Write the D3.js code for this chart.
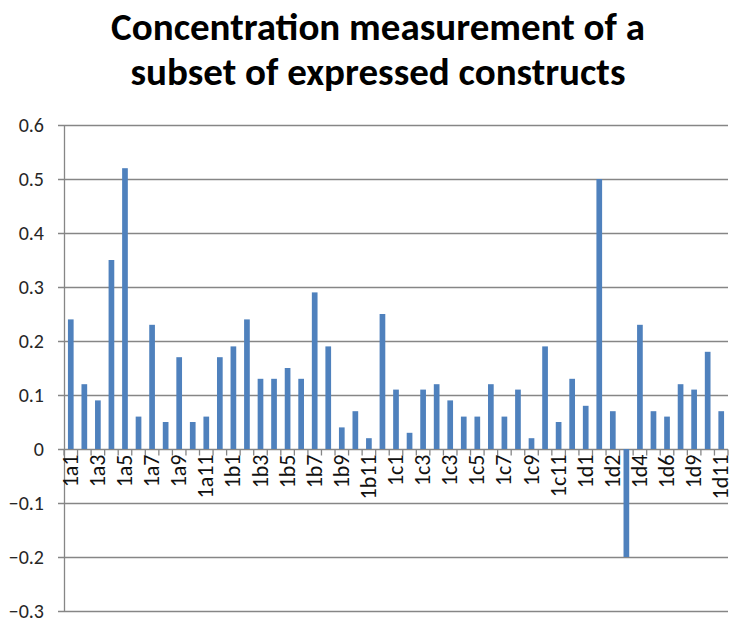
<!DOCTYPE html>
<html>
<head>
<meta charset="utf-8">
<script src="https://cdn.jsdelivr.net/npm/d3@7"></script>
<style>
  body { margin: 0; background: #fff; }
  text { font-family: Carlito, "Open Sans", "Liberation Sans", sans-serif; }
</style>
</head>
<body>
<svg id="chart" width="730" height="621"></svg>
<script>
// construct names (only every other one gets a label, like the original)
const constructs = [
  '1a1', '1a2', '1a3', '1a4', '1a5', '1a6', '1a7', '1a8', '1a9', '1a10', '1a11', '1a12',
  '1b1', '1b2', '1b3', '1b4', '1b5', '1b6', '1b7', '1b8', '1b9', '1b10', '1b11', '1b12',
  '1c1', '1c2', '1c3', '1c4', '1c3 ', '1c4 ', '1c5', '1c6', '1c7', '1c8', '1c9', '1c10',
  '1c11', '1c12', '1d1', '1d1 ', '1d2', '1d3', '1d4', '1d5', '1d6', '1d8', '1d9', '1d10',
  '1d11',
];
// concentration values
const concentration = [
  0.24, 0.12, 0.09, 0.35, 0.52, 0.06, 0.23, 0.05, 0.17, 0.05, 0.06, 0.17,
  0.19, 0.24, 0.13, 0.13, 0.15, 0.13, 0.29, 0.19, 0.04, 0.07, 0.02, 0.25,
  0.11, 0.03, 0.11, 0.12, 0.09, 0.06, 0.06, 0.12, 0.06, 0.11, 0.02, 0.19,
  0.05, 0.13, 0.08, 0.50, 0.07, -0.2, 0.23, 0.07, 0.06, 0.12, 0.11, 0.18,
  0.07,
];
const yTicks = [0.6, 0.5, 0.4, 0.3, 0.2, 0.1, 0, -0.1, -0.2, -0.3];
const titleLines = ['Concentration measurement of a', 'subset of expressed constructs'];

// plot box
const pLeft = 64, pRight = 728, pTop = 125, pBottom = 611;

const svg = d3.select('#chart');

const x = d3.scaleBand()
  .domain(constructs)
  .range([pLeft, pRight])
  .paddingInner(0.58)
  .paddingOuter(0.29);

const y = d3.scaleLinear().domain([-0.3, 0.6]).range([pBottom, pTop]);

// title
svg.append('g')
  .selectAll('text')
  .data(titleLines)
  .join('text')
  .attr('x', 378)
  .attr('y', (d, i) => 40 + i * 45)
  .attr('text-anchor', 'middle')
  .attr('font-size', 39)
  .attr('font-weight', 'bold')
  .attr('fill', '#000')
  .text((d) => d);

// gridlines
svg.append('g')
  .selectAll('line')
  .data(yTicks)
  .join('line')
  .attr('x1', pLeft - 6)
  .attr('x2', pRight)
  .attr('y1', (d) => Math.round(y(d)) + 0.5)
  .attr('y2', (d) => Math.round(y(d)) + 0.5)
  .attr('stroke', '#868686')
  .attr('stroke-width', 1.3);

// y labels
svg.append('g')
  .selectAll('text')
  .data(yTicks)
  .join('text')
  .attr('x', 44)
  .attr('y', (d) => y(d))
  .attr('dy', '0.33em')
  .attr('text-anchor', 'end')
  .attr('font-size', 20)
  .attr('fill', '#262626')
  .text((d) => d3.format('')(d));

// y axis line
svg.append('line')
  .attr('x1', pLeft + 0.5)
  .attr('x2', pLeft + 0.5)
  .attr('y1', pTop)
  .attr('y2', pBottom)
  .attr('stroke', '#868686')
  .attr('stroke-width', 1.3);

// bars
svg.append('g')
  .selectAll('rect')
  .data(concentration)
  .join('rect')
  .attr('x', (d, i) => x(constructs[i]))
  .attr('width', x.bandwidth())
  .attr('y', (d) => y(Math.max(0, d)))
  .attr('height', (d) => Math.abs(y(d) - y(0)))
  .attr('fill', '#4f81bd');

// x tick marks between categories
const y0 = Math.round(y(0)) + 0.5;
svg.append('g')
  .selectAll('line')
  .data(d3.range(constructs.length + 1))
  .join('line')
  .attr('x1', (i) => pLeft + i * x.step())
  .attr('x2', (i) => pLeft + i * x.step())
  .attr('y1', y0)
  .attr('y2', y0 + 6)
  .attr('stroke', '#868686')
  .attr('stroke-width', 1.3);

// x labels, every other one
svg.append('g')
  .selectAll('text')
  .data(constructs.filter((d, i) => i % 2 === 0))
  .join('text')
  .attr('transform', (d) => `translate(${x(d) + x.bandwidth() / 2},${y0 + 5}) rotate(-90)`)
  .attr('dy', '0.32em')
  .attr('text-anchor', 'end')
  .attr('font-size', 22)
  .attr('fill', '#111')
  .text((d) => d.trim());
</script>
</body>
</html>
